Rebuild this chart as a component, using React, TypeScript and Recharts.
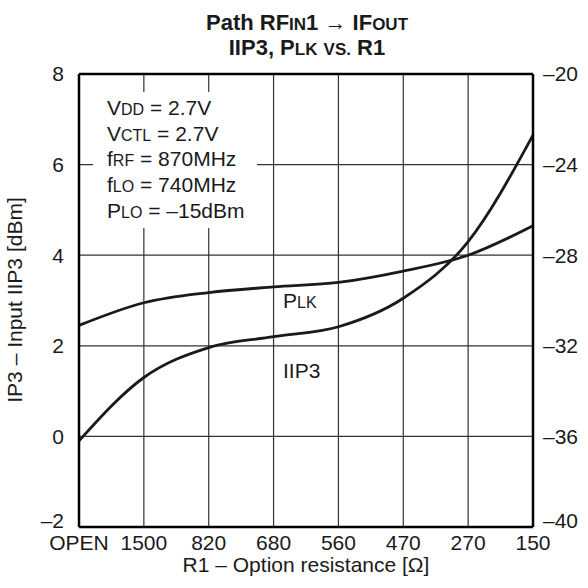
import { LineChart, Line, XAxis, YAxis, CartesianGrid, ReferenceLine } from 'recharts';

const categories = ['OPEN', '1500', '820', '680', '560', '470', '270', '150'];
const iip3Values = [-0.1, 1.3, 1.96, 2.2, 2.42, 3.05, 4.3, 6.65];
const plkValues = [-31.1, -30.1, -29.65, -29.4, -29.2, -28.7, -28.0, -26.7];
const leftTicks = [-2, 0, 2, 4, 6, 8];
const rightTicks = [-40, -36, -32, -28, -24, -20];

const data = categories.map((r1, i) => ({ r1, iip3: iip3Values[i], plk: plkValues[i] }));

const FONT = '"Liberation Sans", Arial, Helvetica, sans-serif';
const INK = '#1a1a1a';
const BIG = 21;
const SMALL = 16;

const fmt = (v: number) => (v < 0 ? '–' + Math.abs(v) : String(v));

// y tick label; the lowest one is nudged up so it clears the x labels
const YTick = ({ x, y, payload, anchor, bottom }: any) => (
  <text
    x={x}
    y={payload.value === bottom ? y - 6 : y}
    dy="0.355em"
    textAnchor={anchor}
    fill={INK}
    fontSize={BIG}
    fontFamily={FONT}
  >
    {fmt(payload.value)}
  </text>
);

const Overlay = () => (
  <svg
    width={588}
    height={588}
    style={{ position: 'absolute', left: 0, top: 0, pointerEvents: 'none' }}
    fontFamily={FONT}
    fill={INK}
  >
    {/* title */}
    <text x={307} y={30} textAnchor="middle" fontSize={22} fontWeight="bold">
      Path RF<tspan fontSize={17}>IN</tspan>1 <tspan fontWeight="normal">→</tspan> IF
      <tspan fontSize={17}>OUT</tspan>
    </text>
    <text x={307} y={55} textAnchor="middle" fontSize={22} fontWeight="bold">
      IIP3, P<tspan fontSize={17}>LK</tspan> <tspan fontSize={17}>VS.</tspan> R1
    </text>

    {/* conditions box */}
    <rect x={93} y={92} width={164} height={136} fill="#fff" />
    <g fontSize={BIG}>
      <text x={107} y={115}>V<tspan fontSize={SMALL}>DD</tspan> = 2.7V</text>
      <text x={107} y={141}>V<tspan fontSize={SMALL}>CTL</tspan> = 2.7V</text>
      <text x={107} y={166}>f<tspan fontSize={SMALL}>RF</tspan> = 870MHz</text>
      <text x={107} y={192}>f<tspan fontSize={SMALL}>LO</tspan> = 740MHz</text>
      <text x={107} y={218}>P<tspan fontSize={SMALL}>LO</tspan> = –15dBm</text>
    </g>

    {/* curve labels */}
    <text x={283} y={308} fontSize={BIG}>P<tspan fontSize={SMALL}>LK</tspan></text>
    <text x={283} y={378} fontSize={BIG}>IIP3</text>

    {/* axis titles */}
    <text x={306} y={572} textAnchor="middle" fontSize={BIG}>R1 – Option resistance [Ω]</text>
    <text
      x={0}
      y={0}
      transform="translate(22 300) rotate(-90)"
      textAnchor="middle"
      fontSize={BIG}
    >
      IP3 – Input IIP3 [dBm]
    </text>
  </svg>
);

export default function App() {
  return (
    <div style={{ position: 'absolute', left: 0, top: 0, width: 588, height: 588, background: '#fff' }}>
      <LineChart
        width={588}
        height={588}
        data={data}
        margin={{ top: 74, right: 5, bottom: 21, left: 19 }}
        style={{ fontFamily: FONT }}
      >
        <CartesianGrid stroke="#333" strokeWidth={1.2} />
        <XAxis
          dataKey="r1"
          height={40}
          tickLine={false}
          tickSize={0}
          tickMargin={8}
          interval={0}
          axisLine={{ stroke: '#000', strokeWidth: 2.5 }}
          tick={{ fill: INK, fontSize: BIG }}
        />
        <YAxis
          width={60}
          domain={[-2, 8]}
          ticks={leftTicks}
          tickLine={false}
          tickSize={0}
          tickMargin={15}
          axisLine={{ stroke: '#000', strokeWidth: 2.5 }}
          tick={<YTick anchor="end" bottom={-2} />}
        />
        <YAxis
          yAxisId="right"
          orientation="right"
          width={50}
          domain={[-40, -20]}
          ticks={rightTicks}
          tickLine={false}
          tickSize={0}
          tickMargin={10}
          axisLine={{ stroke: '#000', strokeWidth: 2.5 }}
          tick={<YTick anchor="start" bottom={-40} />}
        />
        <ReferenceLine y={8} stroke="#000" strokeWidth={2.5} />
        <Line
          type="monotone"
          dataKey="plk"
          yAxisId="right"
          stroke={INK}
          strokeWidth={2.8}
          dot={false}
          isAnimationActive={false}
        />
        <Line
          type="monotone"
          dataKey="iip3"
          stroke={INK}
          strokeWidth={2.8}
          dot={false}
          isAnimationActive={false}
        />
      </LineChart>
      <Overlay />
    </div>
  );
}
